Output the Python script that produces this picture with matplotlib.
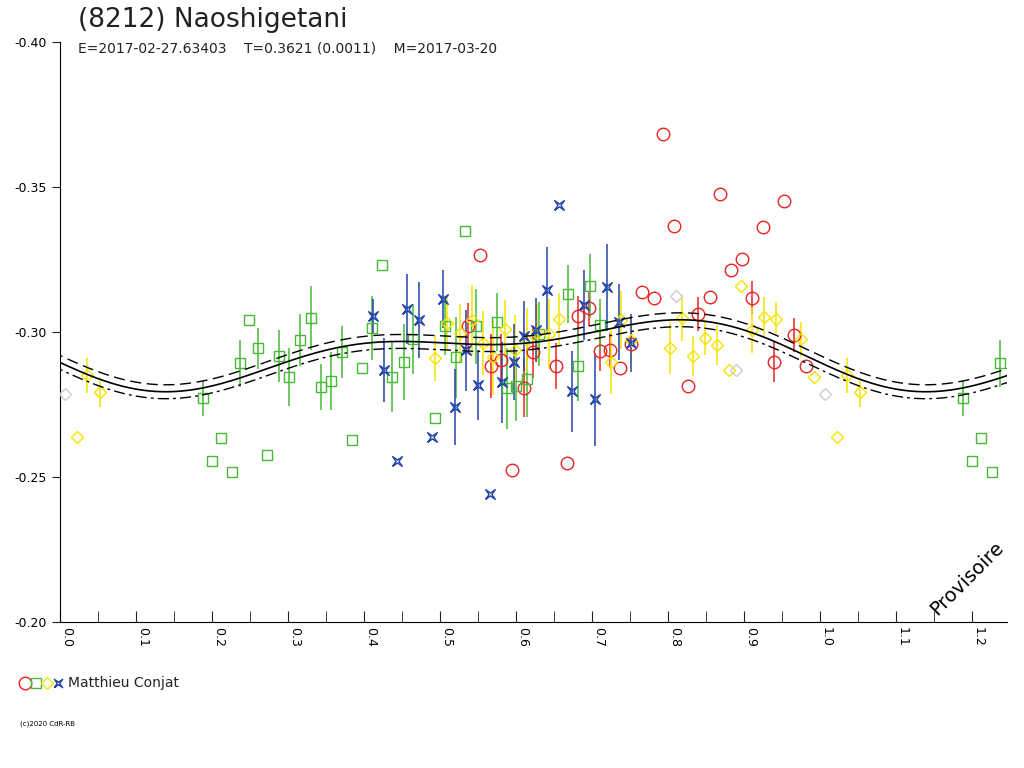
import numpy as np
import matplotlib.pyplot as plt
from matplotlib.path import Path
from matplotlib.lines import Line2D

red_ph = [0.794, 0.808, 0.868, 0.953, 0.925, 0.897, 0.883, 0.910, 0.855, 0.839, 0.826,
          0.766, 0.781, 0.737, 0.724, 0.710, 0.751, 0.696, 0.681, 0.667, 0.653, 0.622,
          0.611, 0.595, 0.580, 0.567, 0.537, 0.939, 0.966, 0.981, 0.553]
red_mag = [-0.3683, -0.3365, -0.3476, -0.3452, -0.3362, -0.3252, -0.3213, -0.3117, -0.3120,
           -0.3062, -0.2813, -0.3137, -0.3117, -0.2875, -0.2937, -0.2934, -0.2958, -0.3082,
           -0.3055, -0.2548, -0.2882, -0.2930, -0.2806, -0.2524, -0.2903, -0.2882, -0.3020,
           -0.2896, -0.2990, -0.2882, -0.3266]
red_err = [0.0, 0.0, 0.0, 0.0, 0.0, 0.0, 0.0, 0.006, 0.0, 0.006, 0.0,
           0.0, 0.0, 0.0, 0.006, 0.007, 0.0, 0.006, 0.007, 0.0, 0.008, 0.009,
           0.010, 0.0, 0.009, 0.011, 0.008, 0.007, 0.006, 0.0, 0.0]

green_ph = [0.188, 0.200, 0.212, 0.226, 0.237, 0.249, 0.261, 0.273, 0.288, 0.301, 0.316,
            0.330, 0.343, 0.357, 0.371, 0.384, 0.398, 0.411, 0.424, 0.437, 0.452, 0.465,
            0.493, 0.506, 0.521, 0.533, 0.547, 0.575, 0.588, 0.600, 0.615, 0.630, 0.669,
            0.682, 0.697, 0.710]
green_mag = [-0.2772, -0.2555, -0.2634, -0.2517, -0.2892, -0.3041, -0.2944, -0.2576, -0.2916,
             -0.2844, -0.2972, -0.3048, -0.2810, -0.2831, -0.2930, -0.2627, -0.2875, -0.3013,
             -0.3231, -0.2844, -0.2896, -0.2975, -0.2703, -0.3020, -0.2913, -0.3348, -0.3020,
             -0.3034, -0.2806, -0.2813, -0.2837, -0.2993, -0.3131, -0.2882, -0.3158, -0.3024]
green_err = [0.006, 0.0, 0.0, 0.0, 0.008, 0.0, 0.007, 0.0, 0.009, 0.010, 0.009,
             0.011, 0.008, 0.010, 0.009, 0.0, 0.0, 0.011, 0.0, 0.012, 0.013, 0.012,
             0.0, 0.010, 0.014, 0.0, 0.013, 0.010, 0.014, 0.012, 0.013, 0.011, 0.010,
             0.012, 0.011, 0.009]

yellow_ph = [0.022, 0.036, 0.052, 0.493, 0.509, 0.526, 0.542, 0.557, 0.570, 0.586, 0.599,
             0.614, 0.628, 0.643, 0.657, 0.725, 0.738, 0.751, 0.802, 0.818, 0.833, 0.848,
             0.865, 0.880, 0.896, 0.910, 0.926, 0.942, 0.975, 0.992]
yellow_mag = [-0.2637, -0.2851, -0.2793, -0.2910, -0.3031, -0.2996, -0.3041, -0.2961, -0.2913,
              -0.3010, -0.2937, -0.2972, -0.2996, -0.2993, -0.3045, -0.2896, -0.3041, -0.2972,
              -0.2944, -0.3048, -0.2917, -0.2979, -0.2955, -0.2868, -0.3158, -0.3006, -0.3051,
              -0.3045, -0.2975, -0.2844]
yellow_err = [0.0, 0.006, 0.005, 0.008, 0.009, 0.010, 0.012, 0.011, 0.013, 0.010, 0.012,
              0.011, 0.010, 0.012, 0.009, 0.011, 0.010, 0.008, 0.009, 0.008, 0.007, 0.006,
              0.007, 0.0, 0.0, 0.008, 0.007, 0.006, 0.006, 0.0]

blue_ph = [0.412, 0.426, 0.443, 0.456, 0.473, 0.489, 0.504, 0.520, 0.534, 0.550, 0.566,
           0.582, 0.598, 0.611, 0.626, 0.641, 0.657, 0.673, 0.689, 0.704, 0.720, 0.735, 0.751]
blue_mag = [-0.3055, -0.2869, -0.2555, -0.3079, -0.3041, -0.2637, -0.3113, -0.2741, -0.2937,
            -0.2817, -0.2441, -0.2827, -0.2896, -0.2986, -0.3006, -0.3144, -0.3437, -0.2796,
            -0.3093, -0.2768, -0.3155, -0.3034, -0.2962]
blue_err = [0.006, 0.011, 0.0, 0.012, 0.013, 0.0, 0.010, 0.013, 0.014, 0.012, 0.0,
            0.014, 0.013, 0.012, 0.011, 0.015, 0.0, 0.014, 0.012, 0.016, 0.015, 0.013, 0.010]

grey_ph = [0.007, 0.811, 0.890]
grey_mag = [-0.2786, -0.3124, -0.2868]

# Fourier fit of the light curve
mean_mag = -0.2934
cos_coef = [0.0034, 0.0005]
sin_coef = [0.0086, 0.0054]
sigma = 0.0012

period_txt = "E=2017-02-27.63403    T=0.3621 (0.0011)    M=2017-03-20"

# star marker like the blue one
star_path = Path([(-1, -1), (-0.3, 0), (-1, 1), (0, 0.3), (1, 1), (0.3, 0), (1, -1), (0, -0.3), (-1, -1)])

fig = plt.figure(figsize=(10.24, 7.68), dpi=100)
ax = fig.add_axes([60 / 1024, 1 - 622 / 768, 947 / 1024, 580 / 768])

xmax = 1.246


def wrap(ph):
    ph = np.asarray(ph)
    return np.concatenate([ph, ph[ph + 1 < xmax] + 1])


def wrapv(ph, v):
    ph = np.asarray(ph)
    v = np.asarray(v)
    return np.concatenate([v, v[ph + 1 < xmax]])


series = [
    (red_ph, red_mag, red_err, '#ee2222', 'o', 9),
    (green_ph, green_mag, green_err, '#44bb33', 's', 7),
    (yellow_ph, yellow_mag, yellow_err, '#f5e400', 'D', 6),
    (blue_ph, blue_mag, blue_err, '#2244aa', star_path, 7),
]
for ph, mag, err, col, mk, ms in series:
    x = wrap(ph)
    y = wrapv(ph, mag)
    e = wrapv(ph, err)
    ax.vlines(x, y - e, y + e, color=col, lw=1.1, zorder=2)
    ax.plot(x, y, ls='none', marker=mk, ms=ms, mfc='none', mec=col, mew=1, zorder=3)

ax.plot(wrap(grey_ph), wrapv(grey_ph, grey_mag), ls='none', marker='D', ms=6,
        mfc='none', mec='#cccccc', mew=1, zorder=3)

p = np.linspace(-0.01, xmax, 600)
model = np.full_like(p, mean_mag)
for k, (a, b) in enumerate(zip(cos_coef, sin_coef), start=1):
    model += a * np.cos(2 * np.pi * k * p) + b * np.sin(2 * np.pi * k * p)
ax.plot(p, model, color='black', lw=1.2, zorder=4)
ax.plot(p, model - 2 * sigma, color='black', lw=1, ls=(0, (8, 4)), zorder=4)
ax.plot(p, model + 2 * sigma, color='black', lw=1, ls=(0, (8, 3, 2, 3)), zorder=4)

ax.set_xlim(0, xmax)
ax.set_ylim(-0.20, -0.40)
ax.set_yticks([-0.40, -0.35, -0.30, -0.25, -0.20])
ax.set_yticklabels(['-0.40', '-0.35', '-0.30', '-0.25', '-0.20'])
ax.set_xticks(np.arange(0, 1.25, 0.1))
ax.set_xticks(np.arange(0.05, 1.25, 0.1), minor=True)
ax.set_xticklabels(['%.1f' % v for v in np.arange(0, 1.25, 0.1)], rotation=270)
ax.tick_params(axis='x', which='both', direction='in', length=8, labelsize=9, color='#222222')
ax.tick_params(axis='y', direction='out', length=6, labelsize=9, color='#222222')
for lab in ax.get_xticklabels():
    lab.set_horizontalalignment('left')
for s in ['top', 'right']:
    ax.spines[s].set_visible(False)

fig.text(78 / 1024, 1 - 20 / 768, "(8212) Naoshigetani", fontsize=19, va='center', color='#222222')
fig.text(78 / 1024, 1 - 48 / 768, period_txt, fontsize=10, va='center', color='#222222')
ax.text(0.958, 0.005, "Provisoire", transform=ax.transAxes, rotation=45, fontsize=14,
        ha='center', va='bottom')

# legend row
leg_marks = [('o', '#ee2222', 9), ('s', '#44bb33', 7), ('D', '#f5e400', 6), (star_path, '#2244aa', 6)]
for i, (mk, col, ms) in enumerate(leg_marks):
    xp = (25 + i * 11) / 1024
    fig.add_artist(Line2D([xp], [1 - 683 / 768], marker=mk, ms=ms, mfc='none', mec=col,
                          mew=1, ls='none', transform=fig.transFigure))
fig.text(68 / 1024, 1 - 683 / 768, "Matthieu Conjat", fontsize=10, va='center', color='#222222')
fig.text(20 / 1024, 1 - 724 / 768, "(c)2020 CdR-RB", fontsize=5, va='center')

fig.savefig('out.png', dpi=100)
